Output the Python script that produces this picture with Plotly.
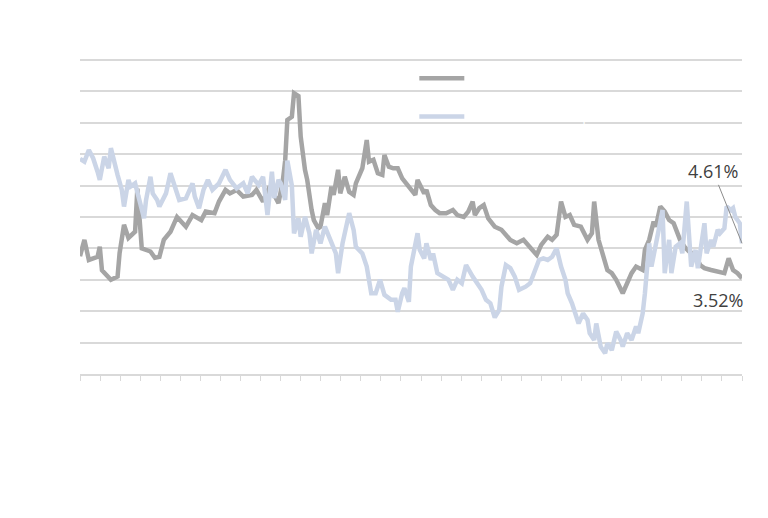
import plotly.graph_objects as go
import pandas as pd

title_text = "S&P 500 Earnings Yield vs. 10 Yr Municipal Tax Equivalent Yield"
source_text = "Source: MMD, Bloomberg, Earnings Yield for SPX"
series_names = ["S&P 500 Earnings Yield", "10 Yr Muni Tax Equivalent Yield"]

ey_dates = ["2000-09","2000-11","2001-01","2001-05","2001-06","2001-07","2001-11","2002-02","2002-03","2002-05",
            "2002-07","2002-10","2002-11","2003-01","2003-05","2003-07","2003-09","2003-11","2004-02","2004-05",
            "2004-09","2004-12","2005-04","2005-06","2005-10","2005-12","2006-03","2006-05","2006-08","2006-11",
            "2007-03","2007-05","2007-08","2007-11","2008-03","2008-05","2008-06","2008-07","2008-09","2008-10",
            "2008-12","2009-01","2009-03","2009-04","2009-06","2009-07","2009-09","2009-10","2009-12","2010-01",
            "2010-03","2010-04","2010-06","2010-07","2010-09","2010-11","2011-01","2011-02","2011-05","2011-07",
            "2011-08","2011-10","2011-12","2012-02","2012-03","2012-05","2012-07","2012-09","2012-11","2013-03",
            "2013-05","2013-06","2013-09","2013-10","2013-12","2014-02","2014-04","2014-07","2014-10","2014-12",
            "2015-03","2015-05","2015-07","2015-08","2015-10","2015-12","2016-02","2016-05","2016-08","2016-12",
            "2017-03","2017-06","2017-09","2017-12","2018-02","2018-05","2018-07","2018-09","2018-11","2019-01",
            "2019-03","2019-05","2019-08","2019-11","2020-01","2020-02","2020-04","2020-06","2020-08","2020-10",
            "2020-12","2021-03","2021-05","2021-07","2021-09","2021-12","2022-01","2022-03","2022-05","2022-06",
            "2022-08","2022-10","2022-12","2023-02","2023-05","2023-07","2023-09","2023-12","2024-02","2024-04",
            "2024-07","2024-10","2025-01","2025-03","2025-05","2025-07","2025-09"]
ey_values = [3.75,4.27,3.63,3.73,4.05,3.30,3.00,3.10,3.85,4.75,
             4.33,4.53,5.90,4.00,3.90,3.70,3.73,4.27,4.53,5.00,
             4.69,5.06,4.90,5.17,5.12,5.49,5.86,5.75,5.86,5.65,
             5.70,5.86,5.49,5.97,5.44,6.18,6.80,8.09,8.19,8.94,
             8.85,7.56,6.50,6.18,5.22,4.90,4.64,4.69,5.44,5.06,
             5.97,5.70,6.50,5.75,6.28,5.80,5.70,6.07,6.55,7.45,
             6.76,6.82,6.39,6.34,6.97,6.60,6.55,6.55,6.23,5.91,
             5.70,6.18,5.75,5.86,5.38,5.22,5.12,5.12,5.22,5.06,
             5.00,5.17,5.49,5.06,5.28,5.38,4.95,4.69,4.59,4.27,
             4.16,4.27,4.05,3.79,4.11,4.37,4.27,4.43,5.49,5.00,
             5.06,4.75,4.69,4.27,4.48,5.49,4.27,3.84,3.31,3.21,
             3.00,2.57,2.89,3.21,3.42,3.31,3.95,4.27,4.85,4.69,
             5.33,5.17,4.90,4.80,4.27,4.05,3.90,3.79,3.47,3.37,
             3.31,3.26,3.21,3.68,3.31,3.21,3.05]

muni_dates = ["2000-09","2000-11","2001-01","2001-03","2001-05","2001-06","2001-08","2001-10","2001-11","2002-01",
              "2002-02","2002-04","2002-05","2002-07","2002-08","2002-10","2002-11","2003-02","2003-03","2003-05",
              "2003-06","2003-08","2003-09","2003-12","2004-02","2004-04","2004-06","2004-09","2004-12","2005-01",
              "2005-03","2005-05","2005-07","2005-09","2005-12","2006-03","2006-05","2006-08","2006-11","2007-01",
              "2007-03","2007-06","2007-08","2007-10","2007-12","2008-01","2008-03","2008-04","2008-06","2008-07",
              "2008-09","2008-10","2008-12","2009-01","2009-03","2009-05","2009-06","2009-08","2009-10","2009-12",
              "2010-02","2010-05","2010-06","2010-08","2010-11","2011-01","2011-02","2011-05","2011-07","2011-09",
              "2011-11","2012-01","2012-03","2012-06","2012-08","2012-09","2012-11","2012-12","2013-02","2013-03",
              "2013-06","2013-07","2013-09","2013-10","2013-12","2014-01","2014-03","2014-06","2014-08","2014-10",
              "2014-12","2015-02","2015-04","2015-07","2015-09","2015-11","2016-01","2016-03","2016-05","2016-07",
              "2016-08","2016-10","2016-12","2017-02","2017-04","2017-07","2017-09","2017-11","2018-01","2018-03",
              "2018-05","2018-07","2018-09","2018-11","2019-01","2019-02","2019-04","2019-07","2019-09","2019-11",
              "2019-12","2020-02","2020-03","2020-05","2020-07","2020-08","2020-10","2020-12","2021-02","2021-03",
              "2021-05","2021-07","2021-09","2021-10","2021-12","2022-01","2022-02","2022-03","2022-04","2022-06",
              "2022-07","2022-09","2022-10","2022-12","2023-01","2023-03","2023-05","2023-06","2023-08","2023-10",
              "2023-12","2024-01","2024-03","2024-04","2024-05","2024-07","2024-08","2024-10","2024-11","2025-01",
              "2025-02","2025-04","2025-05","2025-06","2025-08","2025-09"]
muni_values = [6.85,6.76,7.13,6.87,6.44,6.18,6.92,6.55,7.19,6.71,
               6.34,5.86,5.33,6.18,5.97,6.07,5.75,4.96,5.54,6.28,
               5.75,5.54,5.33,5.75,6.39,5.97,5.54,5.59,6.07,5.65,
               5.28,5.86,6.18,5.86,6.07,6.50,6.18,5.91,6.07,5.75,
               6.28,6.02,6.28,5.06,6.44,5.60,6.18,6.07,5.54,6.79,
               6.00,4.48,4.96,4.37,5.00,4.48,3.84,4.59,4.16,4.69,
               4.37,3.84,3.21,4.16,5.12,4.59,4.05,3.84,3.42,2.57,
               2.57,3.00,2.52,2.36,2.36,1.98,2.57,2.73,2.30,3.42,
               4.48,3.95,3.68,4.16,3.63,3.84,3.21,3.10,3.00,2.68,
               3.00,2.89,3.47,3.10,2.89,2.68,2.36,2.25,1.80,2.04,
               2.78,3.47,3.37,3.10,2.68,2.78,2.89,3.31,3.63,3.68,
               3.63,3.73,4.00,3.42,3.00,2.57,2.25,1.61,1.93,1.72,
               1.30,1.08,1.61,0.87,0.66,0.98,0.76,1.35,1.08,0.87,
               1.30,1.08,1.51,1.30,1.93,2.57,3.42,4.16,3.42,4.27,
               4.48,5.22,3.21,4.27,3.21,4.05,4.16,3.84,5.49,3.42,
               3.95,3.37,4.27,4.80,3.84,4.27,4.05,4.59,4.48,4.64,
               5.33,5.22,5.28,5.00,4.80,4.16]

muni_label = "4.61%"
ey_label = "3.52%"

x_start, x_end = "2000-09-01", "2025-09-01"
tick_dates = pd.date_range(x_start, x_end, periods=34)
tick_labels = [d.strftime("%m/%d/%Y") for d in tick_dates]
y_ticks = [0, 1, 2, 3, 4, 5, 6, 7, 8, 9, 10]
y_tick_labels = [f"{v:.2f}%" for v in y_ticks]

gray = "#a5a5a5"
blue = "#cbd5e7"
grid = "#d9d9d9"

fig = go.Figure()
fig.add_trace(go.Scatter(x=ey_dates, y=ey_values, mode="lines", name=series_names[0],
                         legendgroup="a", line=dict(color=gray, width=4.5)))
fig.add_trace(go.Scatter(x=muni_dates, y=muni_values, mode="lines", name=series_names[1],
                         legendgroup="b", line=dict(color=blue, width=4.5)))

fig.add_annotation(x=muni_dates[-1], y=muni_values[-1], xref="x", yref="y",
                   text=muni_label, showarrow=True, arrowhead=0, arrowwidth=1,
                   arrowcolor="#8c8c8c", ax=-29, ay=-72,
                   font=dict(family="Open Sans", size=18, color="#404040"))
fig.add_annotation(x=0.9637, y=0.2357, xref="paper", yref="paper", text=ey_label,
                   showarrow=False, xanchor="center", yanchor="middle",
                   font=dict(family="Open Sans", size=18, color="#404040"))

fig.update_layout(
    width=760, height=510,
    margin=dict(l=72, r=26, t=50, b=144),
    paper_bgcolor="white", plot_bgcolor="white",
    font=dict(family="Open Sans", color="white"),
    title=dict(text=title_text, x=0.013, xanchor="left", y=0.976, yanchor="middle",
               font=dict(size=15, color="white", family="Open Sans")),
    legend=dict(x=0.505, y=0.985, xanchor="left", yanchor="top",
                bgcolor="rgba(0,0,0,0)", font=dict(size=14, color="white"),
                traceorder="grouped", tracegroupgap=17, itemwidth=45),
    showlegend=True,
)
fig.update_xaxes(type="date", range=[x_start, x_end], tickmode="array",
                 tickvals=tick_dates, ticktext=tick_labels, tickangle=-90,
                 tickfont=dict(size=10, color="white"), ticks="outside", ticklen=5,
                 tickcolor=grid, showline=True, linecolor=grid, linewidth=1.5,
                 showgrid=False, zeroline=False)
fig.update_yaxes(range=[0, 10.06], tickmode="array", tickvals=y_ticks, ticktext=y_tick_labels,
                 tickfont=dict(size=11, color="white"), showgrid=True, gridcolor=grid,
                 gridwidth=1.5, zeroline=False, showline=False, ticks="")

fig.add_annotation(x=0.95, y=-0.38, xref="paper", yref="paper", text=source_text,
                   showarrow=False, xanchor="right", yanchor="middle",
                   font=dict(size=13, color="white"))

fig.write_html("out.html")
